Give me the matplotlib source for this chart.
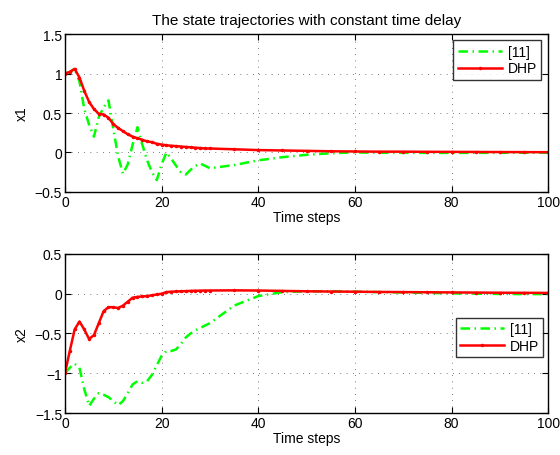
import numpy as np
import matplotlib
matplotlib.use("Agg")
import matplotlib.pyplot as plt
from matplotlib.ticker import FuncFormatter

plt.rcParams["font.family"] = ["Liberation Sans", "DejaVu Sans"]
plt.rcParams["font.size"] = 10

# time steps (dense at the start, sparser on the flat tail)
steps = list(range(0, 31)) + list(range(35, 101, 5))

x1_dhp = [1.00, 1.02, 1.06, 0.95, 0.78, 0.64, 0.55, 0.49, 0.48, 0.44, 0.36,
          0.31, 0.27, 0.23, 0.20, 0.18, 0.16, 0.14, 0.13, 0.11, 0.10,
          0.09, 0.085, 0.08, 0.075, 0.07, 0.065, 0.06, 0.055, 0.05, 0.05,
          0.04, 0.03, 0.025, 0.02, 0.015, 0.012, 0.01, 0.01, 0.008, 0.007,
          0.006, 0.005, 0.004, 0.003]
x1_ref = [1.00, 1.02, 1.06, 0.90, 0.55, 0.35, 0.20, 0.45, 0.57, 0.66, 0.30,
          -0.05, -0.27, -0.15, 0.10, 0.32, 0.10, -0.10, -0.25, -0.35, -0.15,
          0.00, -0.08, -0.17, -0.25, -0.28, -0.22, -0.17, -0.14, -0.17, -0.20,
          -0.16, -0.10, -0.06, -0.03, -0.01, 0.00, -0.004, -0.005, -0.006, -0.006,
          -0.005, -0.005, -0.004, -0.003]

x2_dhp = [-1.00, -0.72, -0.45, -0.35, -0.45, -0.57, -0.52, -0.37, -0.22, -0.17, -0.17,
          -0.18, -0.15, -0.10, -0.05, -0.04, -0.035, -0.03, -0.02, -0.01, 0.00,
          0.02, 0.025, 0.028, 0.03, 0.032, 0.035, 0.037, 0.038, 0.04, 0.04,
          0.042, 0.04, 0.035, 0.03, 0.027, 0.025, 0.022, 0.02, 0.018, 0.016,
          0.014, 0.012, 0.011, 0.01]
x2_ref = [-1.00, -0.93, -0.88, -0.93, -1.20, -1.41, -1.32, -1.25, -1.27, -1.30, -1.35,
          -1.40, -1.35, -1.25, -1.14, -1.10, -1.12, -1.10, -1.02, -0.90, -0.78,
          -0.72, -0.72, -0.70, -0.63, -0.55, -0.50, -0.46, -0.43, -0.40, -0.37,
          -0.15, -0.03, 0.02, 0.03, 0.03, 0.025, 0.02, 0.015, 0.01, 0.005,
          0.0, -0.003, -0.005, -0.005]

labels = ["[11]", "DHP"]
dashdot = (0, (3.8, 1.8, 0.6, 1.8))

fig = plt.figure(figsize=(5.6, 4.56), dpi=100)
ax1 = fig.add_axes([0.116, 0.577, 0.863, 0.346])
ax2 = fig.add_axes([0.116, 0.092, 0.863, 0.349])

# matlab style tick labels: 1 instead of 1.0, real minus sign
fmt = FuncFormatter(lambda v, pos: ("%g" % v).replace("-", "\u2212"))


def style(ax, ylim, yticks):
    ax.set_xlim(0, 100)
    ax.set_ylim(*ylim)
    ax.set_xticks(range(0, 101, 20))
    ax.set_yticks(yticks)
    ax.yaxis.set_major_formatter(fmt)
    ax.grid(True, color="black", linestyle=(0, (1, 8)), linewidth=0.5)
    ax.tick_params(direction="in", top=True, right=True, length=4, width=0.8, pad=2)
    for sp in ax.spines.values():
        sp.set_linewidth(1.0)
    ax.set_xlabel("Time steps", labelpad=1)


ax1.plot(steps, x1_ref, color="#00ff00", linewidth=1.8, linestyle=dashdot, label=labels[0])
ax1.plot(steps, x1_dhp, color="red", linewidth=1.8, marker=".", markersize=3, label=labels[1])
style(ax1, (-0.5, 1.5), [-0.5, 0, 0.5, 1, 1.5])
ax1.set_ylabel("x1", labelpad=4)
ax1.set_title("The state trajectories with constant time delay", fontsize=11, pad=7)
leg1 = ax1.legend(loc="upper right", bbox_to_anchor=(0.985, 0.96), frameon=True,
                  fancybox=False, edgecolor="black", handlelength=3.2, borderpad=0.3,
                  labelspacing=0.2, handletextpad=0.4, borderaxespad=0)
leg1.get_frame().set_linewidth(1.0)

ax2.plot(steps, x2_ref, color="#00ff00", linewidth=1.8, linestyle=dashdot, label=labels[0])
ax2.plot(steps, x2_dhp, color="red", linewidth=1.8, marker=".", markersize=3, label=labels[1])
style(ax2, (-1.5, 0.5), [-1.5, -1, -0.5, 0, 0.5])
ax2.set_ylabel("x2", labelpad=4)
leg2 = ax2.legend(loc="center right", bbox_to_anchor=(0.99, 0.475), frameon=True,
                  fancybox=False, edgecolor="black", handlelength=3.2, borderpad=0.3,
                  labelspacing=0.2, handletextpad=0.4, borderaxespad=0)
leg2.get_frame().set_linewidth(1.0)

fig.savefig("out.png", dpi=100)
